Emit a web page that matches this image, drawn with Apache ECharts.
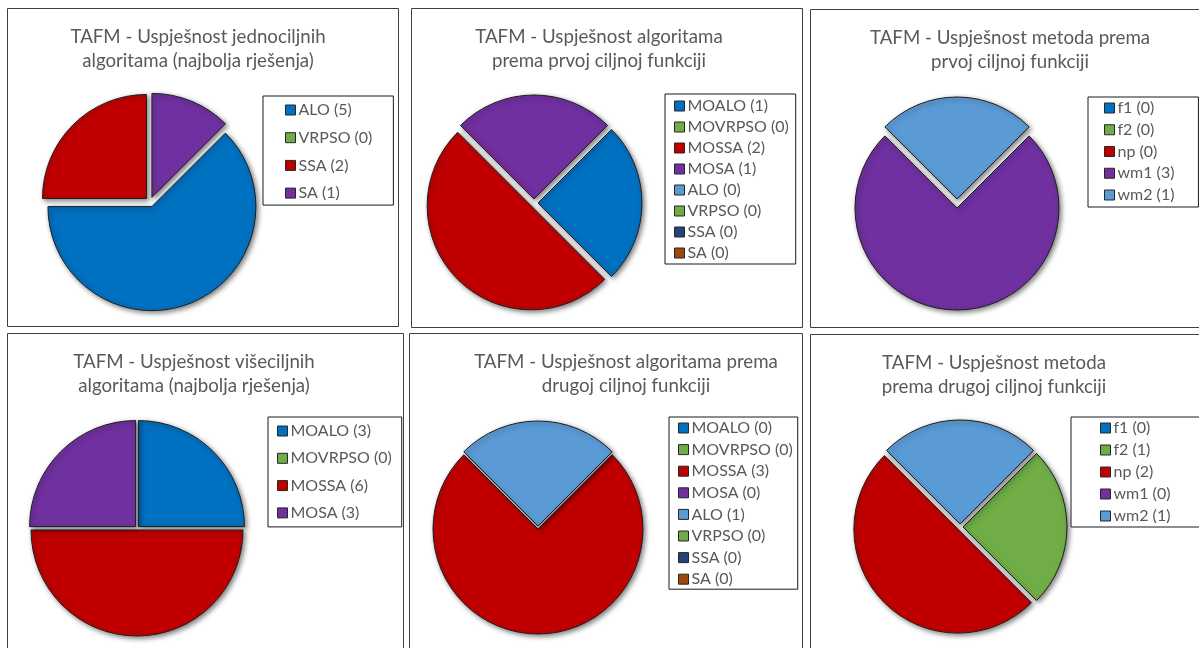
<!DOCTYPE html>
<html>
<head>
<meta charset="utf-8">
<title>TAFM - Uspješnost algoritama i metoda</title>
<script src="https://cdn.jsdelivr.net/npm/echarts@6/dist/echarts.min.js"></script>
<style>
  html, body { margin: 0; padding: 0; background: #ffffff; width: 1199px; height: 648px; overflow: hidden; }
  .panel { position: absolute; }
</style>
</head>
<body>
<div id="p1" class="panel"></div>
<div id="p2" class="panel"></div>
<div id="p3" class="panel"></div>
<div id="p4" class="panel"></div>
<div id="p5" class="panel"></div>
<div id="p6" class="panel"></div>
<script>
// ---- Data ----------------------------------------------------------------
const title1 = 'TAFM - Uspješnost jednociljnih\nalgoritama (najbolja rješenja)';
const names1 = ['ALO', 'VRPSO', 'SSA', 'SA'];
const values1 = [5, 0, 2, 1];

const title2 = 'TAFM - Uspješnost algoritama\nprema prvoj ciljnoj funkciji';
const names2 = ['MOALO', 'MOVRPSO', 'MOSSA', 'MOSA', 'ALO', 'VRPSO', 'SSA', 'SA'];
const values2 = [1, 0, 2, 1, 0, 0, 0, 0];

const title3 = 'TAFM - Uspješnost metoda prema\nprvoj ciljnoj funkciji';
const names3 = ['f1', 'f2', 'np', 'wm1', 'wm2'];
const values3 = [0, 0, 0, 3, 1];

const title4 = 'TAFM - Uspješnost višeciljnih\nalgoritama (najbolja rješenja)';
const names4 = ['MOALO', 'MOVRPSO', 'MOSSA', 'MOSA'];
const values4 = [3, 0, 6, 3];

const title5 = 'TAFM - Uspješnost algoritama prema\ndrugoj ciljnoj funkciji';
const names5 = ['MOALO', 'MOVRPSO', 'MOSSA', 'MOSA', 'ALO', 'VRPSO', 'SSA', 'SA'];
const values5 = [0, 0, 3, 0, 1, 0, 0, 0];

const title6 = 'TAFM - Uspješnost metoda\nprema drugoj ciljnoj funkciji';
const names6 = ['f1', 'f2', 'np', 'wm1', 'wm2'];
const values6 = [0, 1, 2, 0, 1];

// ---- Colours -------------------------------------------------------------
const BLUE = '#0070C0', GREEN = '#70AD47', RED = '#C00000', PURPLE = '#7030A0',
      LIGHTBLUE = '#5B9BD5', NAVY = '#264478', BROWN = '#9E480E';
const colors1 = [BLUE, GREEN, RED, PURPLE];
const colors2 = [BLUE, GREEN, RED, PURPLE, LIGHTBLUE, GREEN, NAVY, BROWN];
const colors3 = [BLUE, GREEN, RED, PURPLE, LIGHTBLUE];
const colors4 = [BLUE, GREEN, RED, PURPLE];
const colors5 = colors2;
const colors6 = colors3;

// exploded slices per chart
const explode1 = [true, true, true, true];
const explode2 = [true, true, true, true, true, true, true, true];
const explode3 = [false, false, false, false, true];
const explode4 = [true, true, true, true];
const explode5 = [false, false, false, false, true, false, false, false];
const explode6 = [true, true, true, true, true];

// ---- Layout --------------------------------------------------------------
const FONT = 'Lato, "Noto Sans", sans-serif';
const TEXT = '#595959';

const panels = [
  { id: 'p1', box: [7, 8, 392, 319], title: title1, names: names1, values: values1, colors: colors1, explode: explode1,
    titleX: 191, center: [143, 194], radius: 104, startAngle: 45, offset: 5,
    legend: { left: 256, top: 88, gap: 9.7, padding: [5, 21, 3, 22] } },
  { id: 'p2', box: [411, 8, 392, 320], title: title2, names: names2, values: values2, colors: colors2, explode: explode2,
    titleX: 188, center: [123, 195], radius: 104, startAngle: 45, offset: 4,
    legend: { left: 254, top: 86, gap: 3, padding: [3, 7, 2, 9] } },
  { id: 'p3', box: [810, 9, 395, 319], title: title3, names: names3, values: values3, colors: colors3, explode: explode3,
    titleX: 200, center: [147, 199], radius: 102, startAngle: 45, offset: 9,
    legend: { left: 278, top: 88, gap: 3.75, padding: [2, 24, 3, 16] } },
  { id: 'p4', box: [7, 333, 397, 330], title: title4, names: names4, values: values4, colors: colors4, explode: explode4,
    titleX: 187, center: [130, 195], radius: 106, startAngle: 90, offset: 2,
    legend: { left: 261, top: 84, gap: 9.3, padding: [5, 10, 5, 9] } },
  { id: 'p5', box: [409, 333, 394, 330], title: title5, names: names5, values: values5, colors: colors5, explode: explode5,
    titleX: 217, center: [129, 196], radius: 105, startAngle: 45, offset: 3,
    legend: { left: 260, top: 84, gap: 3.6, padding: [2, 5, 1, 9] } },
  { id: 'p6', box: [810, 334, 395, 330], title: title6, names: names6, values: values6, colors: colors6, explode: explode6,
    titleX: 184, center: [150, 193], radius: 104, startAngle: 45, offset: 3,
    legend: { left: 261, top: 83, gap: 4, padding: [2, 41, 2, 29] } }
];

function labelOf(name, value) {
  return name + ' (' + value + ')';
}

panels.forEach(function (p) {
  const el = document.getElementById(p.id);
  el.style.left = p.box[0] + 'px';
  el.style.top = p.box[1] + 'px';
  el.style.width = p.box[2] + 'px';
  el.style.height = p.box[3] + 'px';

  const chart = echarts.init(el, null, { renderer: 'canvas' });

  const data = p.names.map(function (n, i) {
    const v = p.values[i];
    const item = {
      name: labelOf(n, v),
      value: v,
      selected: p.explode[i] && v > 0,
      itemStyle: { color: p.colors[i] }
    };
    if (v === 0) {
      item.itemStyle.borderWidth = 0;
      item.itemStyle.shadowBlur = 0;
      item.itemStyle.shadowOffsetX = 0;
      item.itemStyle.shadowOffsetY = 0;
    }
    return item;
  });

  chart.setOption({
    animation: false,
    backgroundColor: '#ffffff',
    graphic: [{
      type: 'rect',
      silent: true,
      shape: { x: 0.5, y: 0.5, width: p.box[2] - 1, height: p.box[3] - 1 },
      style: { fill: 'none', stroke: '#404040', lineWidth: 1 }
    }],
    title: {
      text: p.title,
      left: p.titleX,
      top: 16.5,
      padding: 0,
      textAlign: 'center',
      textStyle: {
        fontFamily: FONT,
        fontSize: 18.7,
        fontWeight: 'normal',
        color: TEXT,
        lineHeight: 24
      }
    },
    legend: {
      orient: 'vertical',
      left: p.legend.left,
      top: p.legend.top,
      padding: p.legend.padding,
      itemGap: p.legend.gap,
      itemWidth: 10,
      itemHeight: 10,
      icon: 'rect',
      selectedMode: false,
      borderColor: '#1a1a1a',
      borderWidth: 1,
      backgroundColor: '#ffffff',
      itemStyle: { borderColor: '#262626', borderWidth: 1, shadowBlur: 0, shadowOffsetX: 0, shadowOffsetY: 0 },
      textStyle: { fontFamily: FONT, fontSize: 16, color: TEXT, lineHeight: 18, padding: [0, 0, 0, -2] },
      data: data.map(function (d) { return d.name; })
    },
    series: [{
      type: 'pie',
      center: p.center,
      radius: p.radius,
      startAngle: p.startAngle,
      clockwise: true,
      selectedMode: 'multiple',
      selectedOffset: p.offset,
      label: { show: false },
      labelLine: { show: false },
      emphasis: { disabled: true },
      itemStyle: {
        borderColor: '#1f1f1f',
        borderWidth: 1,
        shadowBlur: 5,
        shadowColor: 'rgba(0,0,0,0.5)',
        shadowOffsetX: 2,
        shadowOffsetY: 2
      },
      data: data
    }]
  });
});
</script>
</body>
</html>
